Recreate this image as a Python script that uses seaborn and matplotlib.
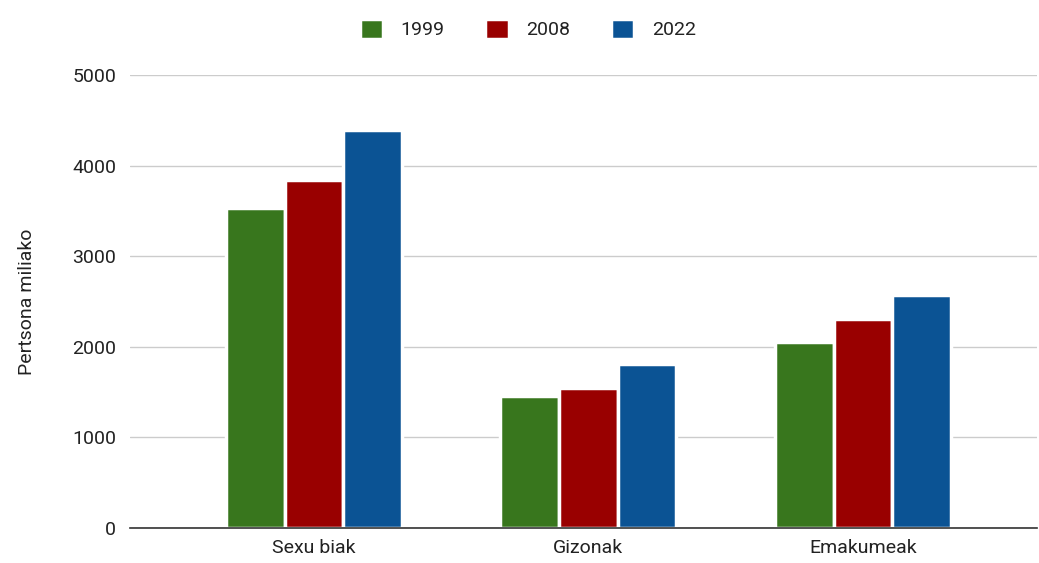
import pandas as pd
import matplotlib.pyplot as plt
import seaborn as sns

categories = ['Sexu biak', 'Gizonak', 'Emakumeak']
years = ['1999', '2008', '2022']
values_1999 = [3530, 1455, 2050]
values_2008 = [3840, 1545, 2305]
values_2022 = [4390, 1810, 2570]
colors = ['#38761d', '#990000', '#0b5394']

df = pd.DataFrame({
    'kategoria': categories * 3,
    'urtea': [y for y in years for _ in categories],
    'balioa': values_1999 + values_2008 + values_2022,
})

sns.set_theme(style='white')
plt.rcParams['font.family'] = ['Roboto', 'DejaVu Sans']

fig = plt.figure(figsize=(10.39, 5.63), dpi=100)
ax = fig.add_axes([0.125, 0.062, 0.873, 0.805])

sns.barplot(data=df, x='kategoria', y='balioa', hue='urtea', order=categories,
            hue_order=years, palette=colors, width=0.64, saturation=1,
            edgecolor='white', linewidth=2.5, ax=ax)

ax.set_ylim(0, 5000)
ax.set_xlim(-0.67, 2.634)
ax.set_yticks([0, 1000, 2000, 3000, 4000, 5000])
ax.yaxis.grid(True, color='#cccccc', linewidth=1)
ax.set_axisbelow(True)
for s in ['top', 'right', 'left']:
    ax.spines[s].set_visible(False)
ax.spines['bottom'].set_color('#333333')
ax.spines['bottom'].set_linewidth(1.2)
ax.tick_params(axis='both', length=0, labelsize=14, colors='#222222')
ax.tick_params(axis='y', pad=10)
ax.tick_params(axis='x', pad=8)
ax.set_xlabel('')
ax.set_ylabel('Pertsona miliako', fontsize=14, color='#222222', labelpad=26)

handles, labels = ax.get_legend_handles_labels()
ax.get_legend().remove()
fig.legend(handles, labels, loc='upper center', bbox_to_anchor=(0.508, 0.998),
           ncol=3, frameon=False, fontsize=14, handlelength=1.2,
           handleheight=1.2, columnspacing=2.1, handletextpad=0.9,
           labelcolor='#222222')

fig.savefig('out.png', dpi=100)
